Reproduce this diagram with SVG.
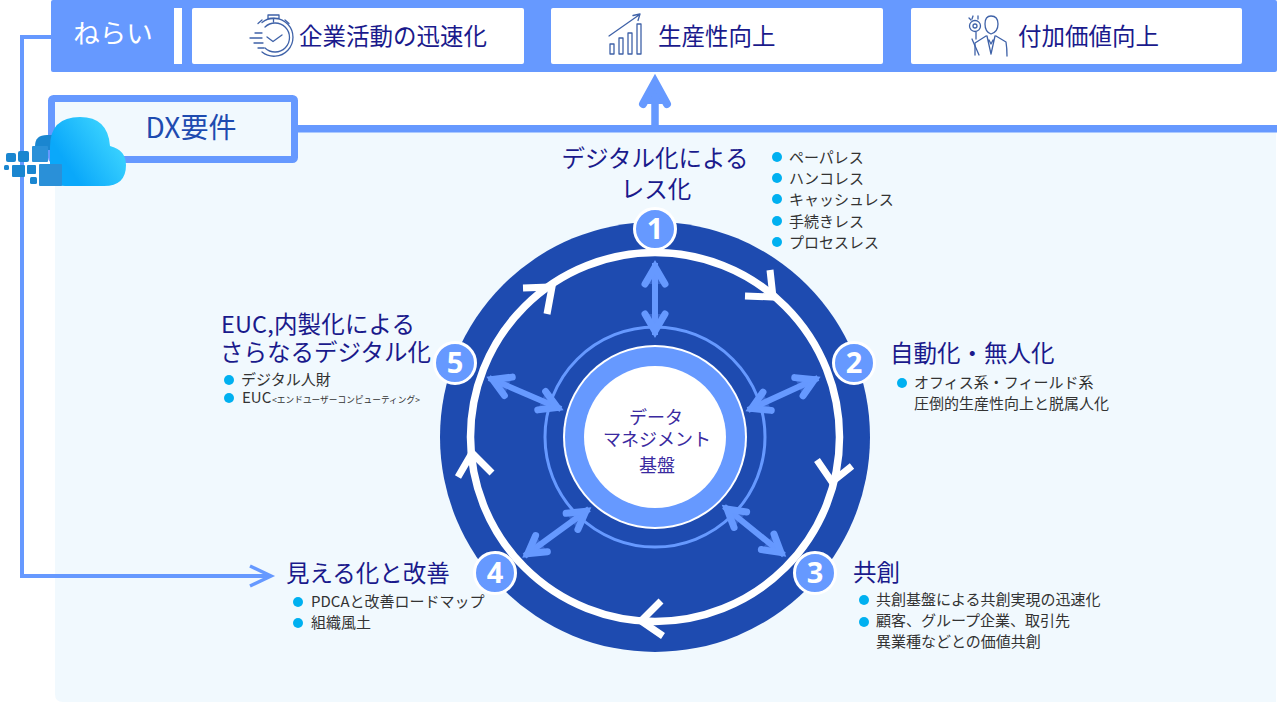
<svg xmlns="http://www.w3.org/2000/svg" width="1280" height="702" viewBox="0 0 1280 702">
<style>
text{font-family:"Noto Sans CJK JP","Noto Sans","Liberation Sans",sans-serif}
.h{font-size:23.500px;fill:#1a1a8c}
.hm{text-anchor:middle}
.b{font-size:15px;fill:#333}
.d{fill:#00b0f0}
.ic{fill:none;stroke:#3f62a8;stroke-width:1.3;stroke-linecap:round;stroke-linejoin:round}
.num{font-family:"Noto Sans","Liberation Sans",sans-serif;font-size:29px;font-weight:700;fill:#fff;text-anchor:middle}
.nc{fill:#6699ff;stroke:#fff;stroke-width:3}
.dbl{fill:none;stroke:#6699ff;stroke-width:6;marker-start:url(#ah);marker-end:url(#ah)}
.chev{fill:none;stroke:#fff;stroke-width:7;stroke-linejoin:miter;stroke-miterlimit:10}
.sq{fill:#1a86d0}
</style>
<defs>
<marker id="ah" viewBox="-28 -16 32 32" refX="0" refY="0" markerUnits="userSpaceOnUse" markerWidth="32" markerHeight="32" orient="auto-start-reverse">
<path d="M-21 -10L-4 0L-21 10" fill="#6699ff" fill-opacity=".35" stroke="#6699ff" stroke-width="7" stroke-linecap="round" stroke-linejoin="miter" stroke-miterlimit="10"/>
</marker>
<linearGradient id="cg" x1="0" y1="1" x2="1" y2="0.4"><stop offset="0.3" stop-color="#0aa8fa"/><stop offset="1" stop-color="#3fd6ff"/></linearGradient>
</defs>
<rect width="1280" height="702" fill="#fff"/>
<path id="panel" d="M55 132H1276V702H63Q55 702 55 694Z" fill="#f1f9fe"/>

<g id="goal-band">
<rect x="51" y="0" width="1226" height="72" rx="2" fill="#6699ff"/>
<text x="113" y="43" font-size="26.500" fill="#fff" text-anchor="middle">ねらい</text>
<rect x="174" y="8" width="8" height="56" fill="#fff"/>
</g>
<g id="goal-1">
<rect x="192" y="8" width="332" height="56" rx="2" fill="#fff"/>
<g class="ic">
<path d="M262 22.500A19 19 0 1 1 262 52"/><path d="M265 27A14.500 14.500 0 1 1 265 48"/>
<path d="M268 15H279V18.500H268ZM273.500 18.500V22M285 20L289 23.500M262 20L258 23.500"/>
<path d="M267 37L273 41.500L282 35"/>
<path d="M250 38H262M254 43H263M255 33H262M258 48H264"/>
</g>
<text x="299" y="45" class="h">企業活動の迅速化</text>
</g>
<g id="goal-2">
<rect x="551" y="8" width="332" height="56" rx="2" fill="#fff"/>
<g class="ic">
<path d="M609 36L639 15M633 15.500L640 14L638 20.500"/>
<path d="M610 44H614V54H610ZM619 38H623V54H619ZM628 33H632V54H628ZM637 24H641V54H637Z"/>
</g>
<text x="658" y="45" class="h">生産性向上</text>
</g>
<g id="goal-3">
<rect x="911" y="8" width="331" height="56" rx="2" fill="#fff"/>
<g class="ic">
<circle cx="975" cy="26" r="5.500"/><circle cx="975" cy="26" r="2"/>
<path d="M973 16L972 19M978 16V19M969 18L971 20"/>
<path d="M976 32V39M972 39L979 55"/>
<path d="M985 24Q985 16 991 16Q998 16 998 24Q998 32 991 34Q985 32 985 24Z"/>
<path d="M986 36L975 43V55M996 36L1006 42Q1007 48 1007 56M987 36L991 54L995 36M989 40L991 44L993 40"/>
</g>
<text x="1018" y="45" class="h">付加価値向上</text>
</g>

<g id="connectors">
<path d="M52 37H22V576H268" fill="none" stroke="#6699ff" stroke-width="4"/>
<path d="M250 566L271 576L250 586" fill="none" stroke="#6699ff" stroke-width="3.500"/>
<rect x="298" y="125" width="979" height="7.500" fill="#6699ff"/>
<path d="M655 128V85" fill="none" stroke="#6699ff" stroke-width="7.500"/>
<path d="M643 104L655 82L667 104" fill="#6699ff" stroke="#6699ff" stroke-width="8" stroke-linecap="round" stroke-miterlimit="8"/>
</g>

<g id="dx-box">
<rect x="51.500" y="98.500" width="243" height="61" rx="2" fill="#f1f9fe" stroke="#6699ff" stroke-width="7"/>
<text x="191" y="138" font-size="28" fill="#1e4bb0" text-anchor="middle">DX要件</text>
</g>
<g id="cloud">
<path d="M35 146Q35 135 47 135H60V150H35Z" fill="#1a86d0"/>
<path d="M65 186Q50 186 50 170V147Q50 117 80 117Q108 117 110 146Q126 150 126 165Q126 186 104 186Z" fill="url(#cg)"/>
<rect x="32" y="146" width="16" height="16" rx="1" fill="#2a90d8"/>
<rect x="39" y="164" width="23" height="22" rx="1" fill="#2a90d8"/>
<rect x="6" y="153" width="10" height="9" rx="2" class="sq"/>
<rect x="18" y="151" width="11" height="11" rx="2" class="sq"/>
<rect x="12" y="165" width="13" height="12" rx="1" class="sq"/>
<rect x="27" y="165" width="9" height="9" rx="1" class="sq"/>
<rect x="4" y="165" width="5" height="5" rx="1.500" class="sq"/>
<rect x="30" y="177" width="7" height="7" rx="1.500" class="sq"/>
</g>

<g id="cycle">
<circle cx="655" cy="437" r="215" fill="#1e4bb0"/>
<circle cx="655" cy="437" r="184.500" fill="none" stroke="#fff" stroke-width="7.500"/>
<circle cx="655" cy="437" r="110" fill="none" stroke="#6699ff" stroke-width="3"/>
</g>
<g id="cycle-arrows">
<path class="chev" d="M770 270L773 297L745 296"/>
<path class="chev" d="M817 460L832 482L852 466"/>
<path class="chev" d="M661 601L641 621L663 636"/>
<path class="chev" d="M458 477L472 453L492 473"/>
<path class="chev" d="M523 288L552 287L547 314"/>
</g>
<g id="spokes">
<line class="dbl" x1="655" y1="263" x2="655" y2="335"/>
<line class="dbl" x1="818" y1="378" x2="748" y2="410"/>
<line class="dbl" x1="784" y1="555" x2="724" y2="506.500"/>
<line class="dbl" x1="524.500" y1="556" x2="589" y2="509"/>
<line class="dbl" x1="489" y1="378" x2="561" y2="409"/>
</g>
<g id="hub">
<circle cx="655" cy="437" r="92" fill="#fff"/>
<circle cx="655" cy="437" r="90" fill="#6699ff"/>
<circle cx="655" cy="437" r="71" fill="#fff"/>
<text x="656" y="424" font-size="18" fill="#3a2aa0" text-anchor="middle">データ</text>
<text x="657" y="446" font-size="18" fill="#3a2aa0" text-anchor="middle">マネジメント</text>
<text x="657" y="472" font-size="18" fill="#3a2aa0" text-anchor="middle">基盤</text>
</g>

<g id="node-1">
<circle class="nc" cx="655" cy="229" r="20.500"/><text class="num" x="655" y="239">1</text>
<text class="h hm" x="655" y="167">デジタル化による</text><text class="h hm" x="656" y="198">レス化</text>
<circle class="d" cx="777" cy="157" r="5"/><text class="b" x="789" y="163">ペーパレス</text>
<circle class="d" cx="777" cy="178" r="5"/><text class="b" x="789" y="184">ハンコレス</text>
<circle class="d" cx="777" cy="199" r="5"/><text class="b" x="789" y="205">キャッシュレス</text>
<circle class="d" cx="777" cy="221" r="5"/><text class="b" x="789" y="227">手続きレス</text>
<circle class="d" cx="777" cy="242" r="5"/><text class="b" x="789" y="248">プロセスレス</text>
</g>
<g id="node-2">
<circle class="nc" cx="854" cy="363" r="20.500"/><text class="num" x="854" y="373">2</text>
<text class="h" x="890" y="362">自動化・無人化</text>
<circle class="d" cx="902" cy="383" r="5"/><text class="b" x="914" y="388">オフィス系・フィールド系</text>
<text class="b" x="914" y="409">圧倒的生産性向上と脱属人化</text>
</g>
<g id="node-3">
<circle class="nc" cx="815" cy="573" r="20.500"/><text class="num" x="815" y="583">3</text>
<text class="h" x="853" y="581">共創</text>
<circle class="d" cx="864" cy="600" r="5"/><text class="b" x="876" y="605">共創基盤による共創実現の迅速化</text>
<circle class="d" cx="864" cy="622" r="5"/><text class="b" x="876" y="626">顧客、グループ企業、取引先</text>
<text class="b" x="876" y="647">異業種などとの価値共創</text>
</g>
<g id="node-4">
<circle class="nc" cx="495" cy="573" r="20.500"/><text class="num" x="495" y="583">4</text>
<text class="h" x="286" y="582">見える化と改善</text>
<circle class="d" cx="298" cy="602" r="5"/><text class="b" x="311" y="607">PDCAと改善ロードマップ</text>
<circle class="d" cx="298" cy="623" r="5"/><text class="b" x="311" y="628">組織風土</text>
</g>
<g id="node-5">
<circle class="nc" cx="455" cy="363" r="20.500"/><text class="num" x="455" y="373">5</text>
<text class="h" x="221" y="333" textLength="194">EUC,内製化による</text>
<text class="h" x="220" y="361">さらなるデジタル化</text>
<circle class="d" cx="229" cy="380" r="5"/><text class="b" x="241" y="385">デジタル人財</text>
<circle class="d" cx="229" cy="398" r="5"/><text class="b" x="242" y="403">EUC</text>
<text x="272" y="403" font-size="8.700" fill="#333">&lt;エンドユーザーコンピューティング&gt;</text>
</g>
</svg>
